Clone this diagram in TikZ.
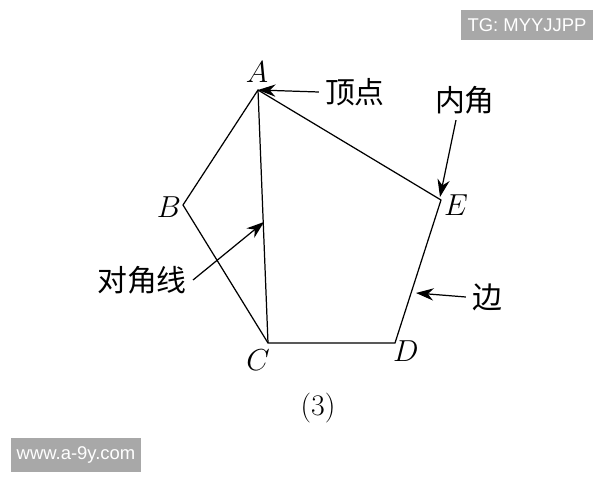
\documentclass[tikz,border=0pt]{standalone}
\usepackage{fontspec}
\newfontfamily\cjk{Noto Sans CJK SC}
\newfontfamily\wmfont{Liberation Sans}
\usepackage{tikz}
\usetikzlibrary{positioning,arrows.meta}

\begin{document}
\begin{tikzpicture}[x=0.02cm,y=-0.02cm,
    vlabel/.style={font=\fontsize{17}{17}\selectfont\itshape},
    cnlabel/.style={font=\cjk\fontsize{17}{17}\selectfont},
    pointer/.style={-{Stealth[length=10pt,width=7pt]},line width=0.7pt},
    wmark/.style={fill=black!34,text=white,font=\wmfont\fontsize{10.5}{10.5}\selectfont,inner xsep=3.5pt,inner ysep=5pt}]
    \useasboundingbox (0,0) rectangle (600,480);
    % vertices
    \coordinate (A) at (258,90);
    \coordinate (B) at (183,205);
    \coordinate (C) at (268,343);
    \coordinate (D) at (395,343);
    \coordinate (E) at (441,200);
    \draw[line width=0.7pt] (A) -- (B) -- (C) -- (D) -- (E) -- cycle;
    \draw[line width=0.7pt] (A) -- (C);
    % vertex names
    \node[vlabel] (nA) at (257,72) {$A$};
    \node[vlabel] (nB) at (169,207) {$B$};
    \node[vlabel] (nC) at (258,360) {$C$};
    \node[vlabel] (nD) at (406,351) {$D$};
    \node[vlabel] (nE) at (456,205) {$E$};
    % labels and pointers
    \node[cnlabel] (vertex) at (355,92) {顶点};
    \node[cnlabel] (angle) at (465,100) {内角};
    \node[cnlabel] (diag) at (142,280) {对角线};
    \node[cnlabel] (side) at (487,297) {边};
    \coordinate (onAC) at (264,222);
    \coordinate (onDE) at (416,293);
    \draw[pointer] (vertex.west) -- (A);
    \draw[pointer] (angle.south -| 456,0) -- (440,197);
    \draw[pointer] (diag.east) -- (onAC);
    \draw[pointer] (side.west) -- (onDE);
    \node[font=\fontsize{17}{17}\selectfont] (caption) at (318,408) {(3)};
    % watermarks
    \node[wmark] (tg) at (527,25) {TG: MYYJJPP};
    \node[wmark] (site) at (76,455) {www.a-9y.com};
\end{tikzpicture}
\end{document}
